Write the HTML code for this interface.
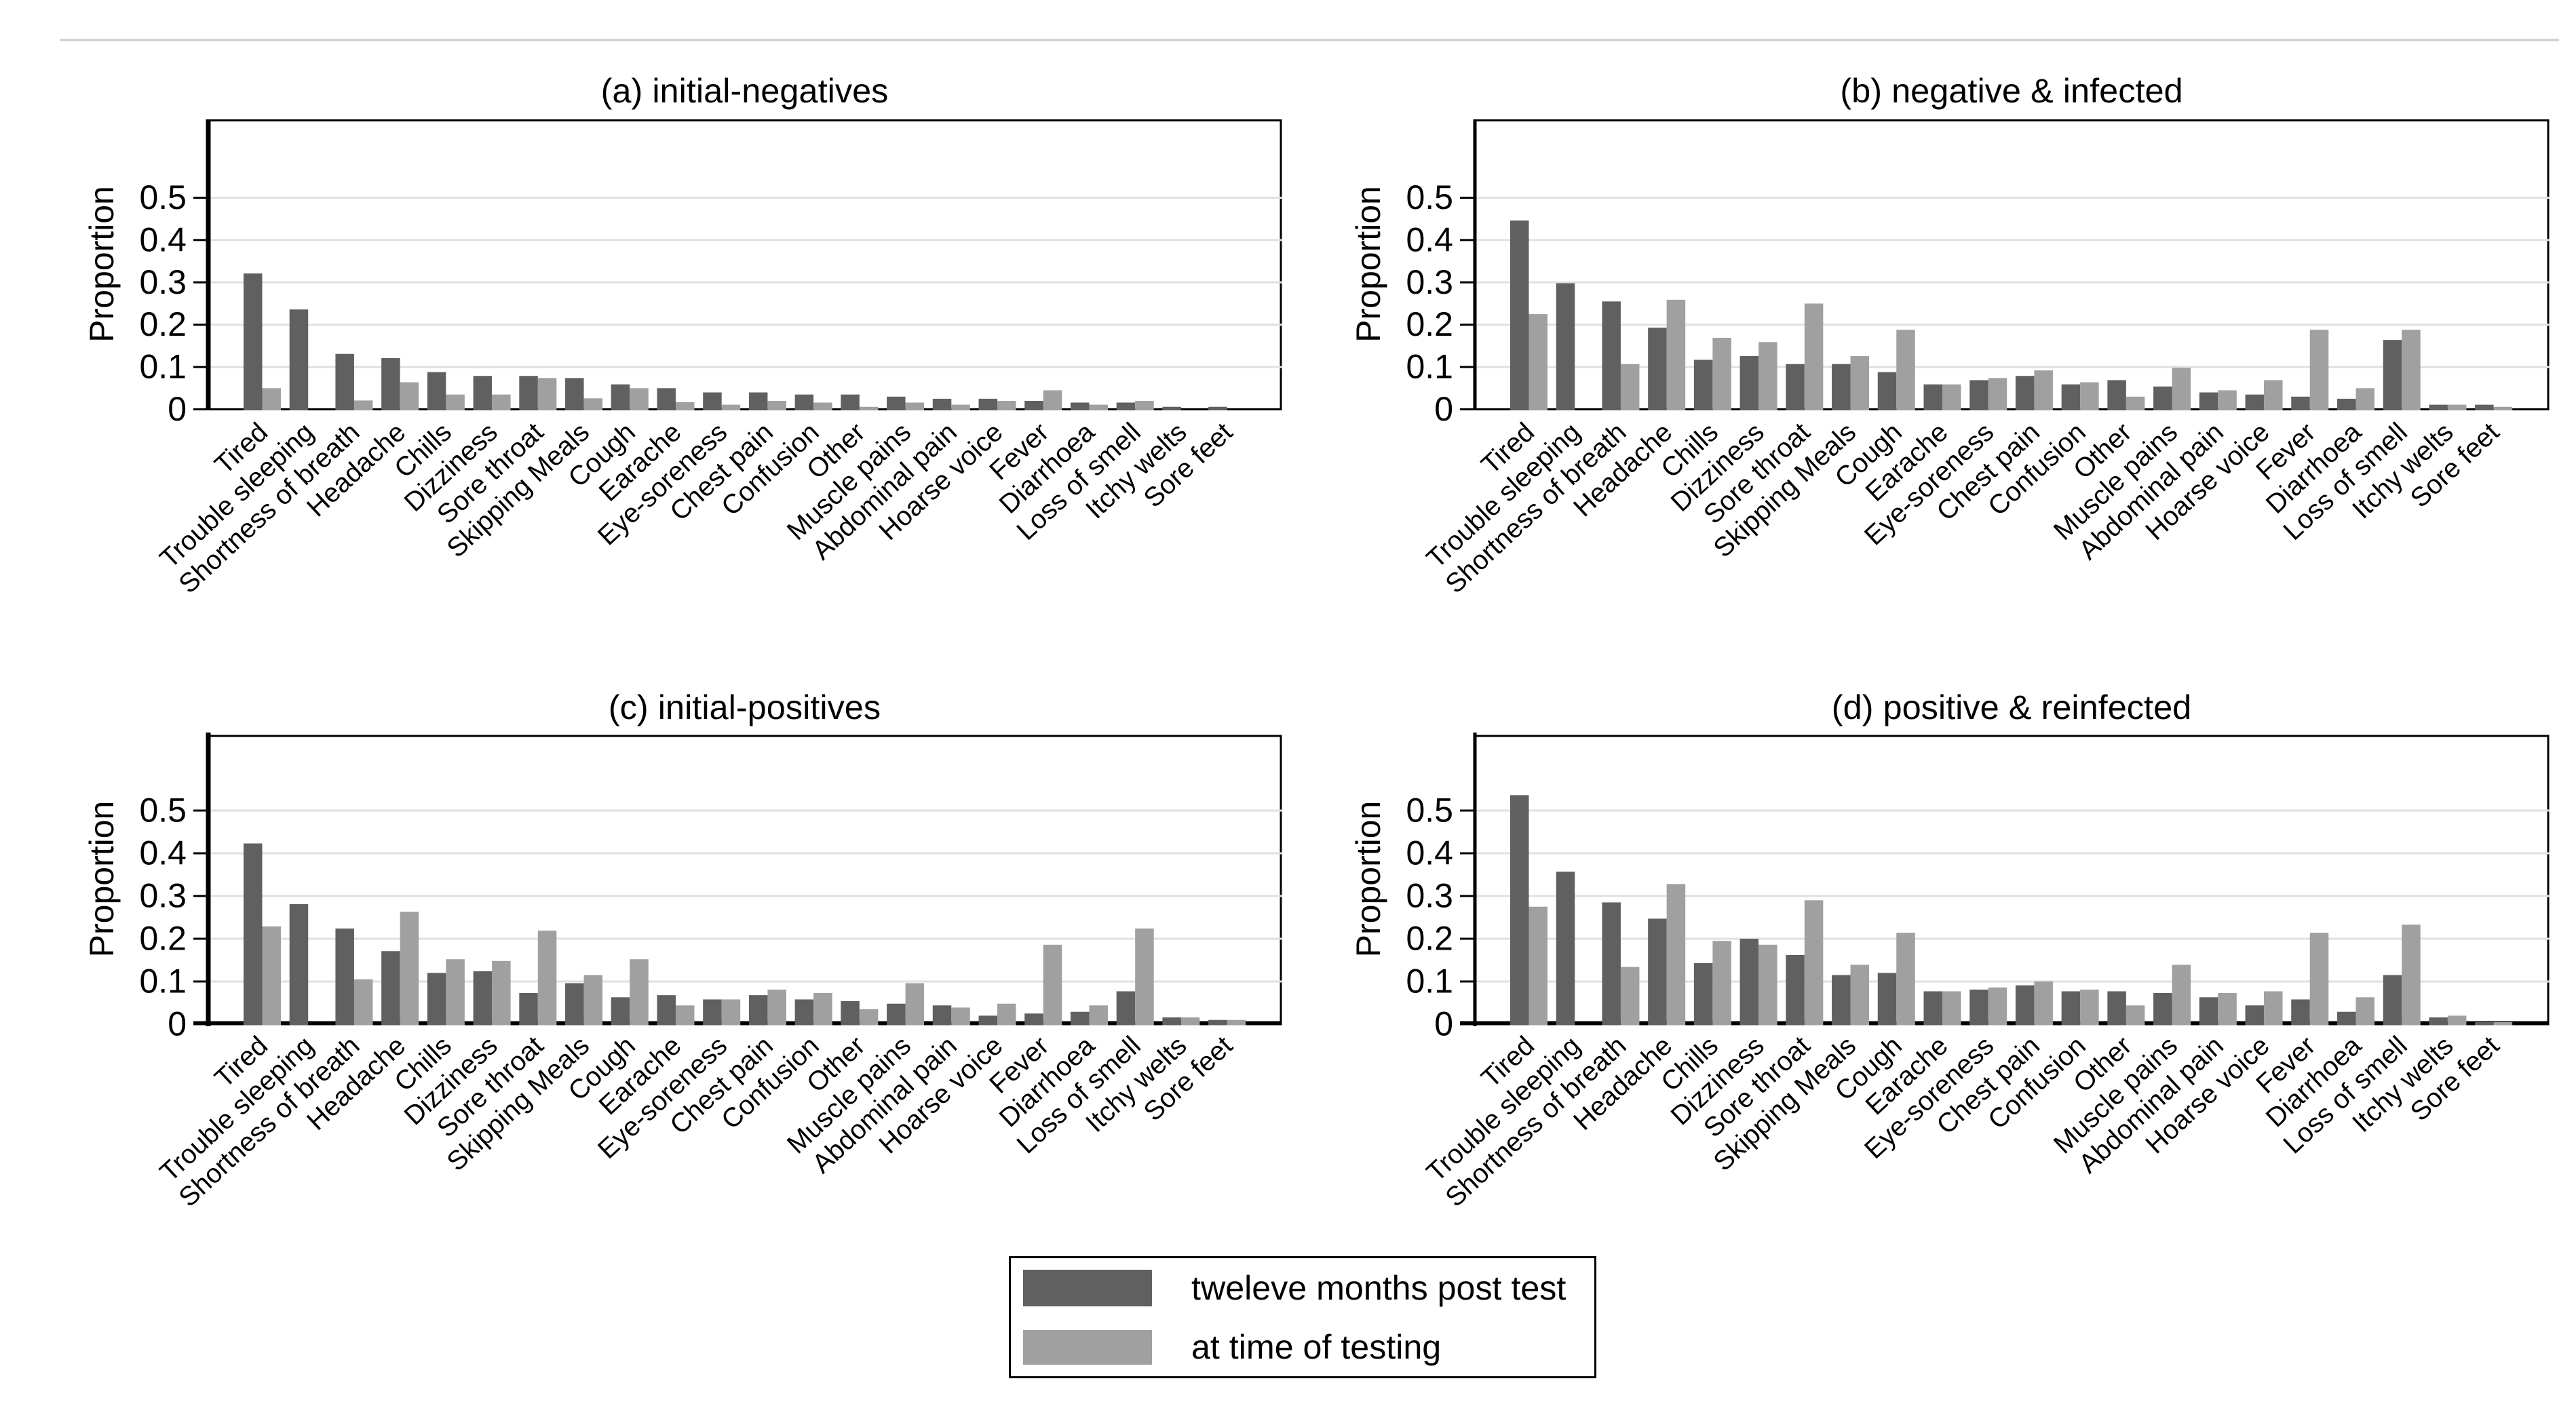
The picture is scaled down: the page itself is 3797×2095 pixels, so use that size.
<!DOCTYPE html>
<html lang="en">
<head>
<meta charset="utf-8">
<title>Symptom proportions by test group</title>
<style>
html,body{margin:0;padding:0;background:#fff;}
#figure{display:block;width:3797px;height:2095px;}
text{font-family:"Liberation Sans",sans-serif;fill:#000;}
</style>
</head>
<body>
<svg id="figure" xmlns="http://www.w3.org/2000/svg" width="3797" height="2095" viewBox="0 0 3797 2095">
  <rect x="88" y="57.5" width="3684" height="3" fill="#cccccc"></rect>
  <g id="panels"></g>
  <g>
    <rect x="1488.5" y="1853.5" width="863" height="177" fill="#fff" stroke="#000" stroke-width="3"></rect>
    <rect x="1508" y="1872" width="190" height="54" fill="#606060"></rect>
    <text x="1756" y="1916" font-size="50.2">tweleve months post test</text>
    <rect x="1508" y="1961" width="190" height="51" fill="#a0a0a0"></rect>
    <text x="1756" y="2003" font-size="50.2">at time of testing</text>
  </g>
</svg>
<script>
const categories = ["Tired","Trouble sleeping","Shortness of breath","Headache","Chills","Dizziness","Sore throat","Skipping Meals","Cough","Earache","Eye-soreness","Chest pain","Confusion","Other","Muscle pains","Abdominal pain","Hoarse voice","Fever","Diarrhoea","Loss of smell","Itchy welts","Sore feet"];
const tickValues = [0, 0.1, 0.2, 0.3, 0.4, 0.5];
const tickLabels = ["0", "0.1", "0.2", "0.3", "0.4", "0.5"];

const panelATwelveMonths = [0.321,0.236,0.131,0.121,0.088,0.079,0.079,0.074,0.059,0.05,0.04,0.04,0.035,0.035,0.03,0.025,0.025,0.02,0.016,0.016,0.006,0.006];
const panelAAtTesting = [0.05,0,0.021,0.064,0.035,0.035,0.074,0.026,0.05,0.017,0.011,0.02,0.016,0.006,0.016,0.011,0.02,0.045,0.011,0.02,0,0];

const panelBTwelveMonths = [0.446,0.298,0.255,0.193,0.117,0.126,0.107,0.107,0.088,0.059,0.069,0.079,0.059,0.069,0.054,0.04,0.035,0.03,0.025,0.164,0.011,0.011];
const panelBAtTesting = [0.225,0,0.107,0.259,0.169,0.159,0.25,0.126,0.188,0.059,0.074,0.092,0.064,0.03,0.098,0.045,0.069,0.188,0.05,0.188,0.011,0.006];

const panelCTwelveMonths = [0.423,0.281,0.224,0.171,0.12,0.124,0.073,0.096,0.063,0.068,0.058,0.068,0.058,0.054,0.048,0.044,0.02,0.025,0.029,0.077,0.016,0.01];
const panelCAtTesting = [0.229,0,0.105,0.263,0.152,0.148,0.219,0.115,0.152,0.044,0.058,0.081,0.073,0.035,0.096,0.039,0.048,0.186,0.044,0.224,0.016,0.01];

const panelDTwelveMonths = [0.536,0.357,0.285,0.247,0.143,0.2,0.162,0.115,0.12,0.077,0.081,0.091,0.077,0.077,0.073,0.063,0.044,0.058,0.029,0.115,0.016,0.005];
const panelDAtTesting = [0.275,0,0.134,0.328,0.195,0.186,0.29,0.139,0.214,0.077,0.086,0.1,0.081,0.044,0.139,0.073,0.077,0.214,0.063,0.233,0.02,0.005];

const panelTitles = ["(a) initial-negatives","(b) negative & infected","(c) initial-positives","(d) positive & reinfected"];
const panelKeys = ["a","b","c","d"];
const panelSeries = [
  [panelATwelveMonths, panelAAtTesting],
  [panelBTwelveMonths, panelBAtTesting],
  [panelCTwelveMonths, panelCAtTesting],
  [panelDTwelveMonths, panelDAtTesting]
];

const SVG_NS = "http://www.w3.org/2000/svg";
const root = document.getElementById("panels");
function make(parent, tag, attrs) {
  const el = document.createElementNS(SVG_NS, tag);
  for (const k in attrs) el.setAttribute(k, attrs[k]);
  parent.appendChild(el);
  return el;
}

panelTitles.forEach(function (title, p) {
  const isRight = p % 2 === 1;
  const isLower = p >= 2;
  const left = isRight ? 2174 : 307;
  const right = isRight ? 3756 : 1888;
  const top = isLower ? 1085 : 177.5;
  const zero = isLower ? 1510 : 603.5;
  const unit = isLower ? 630 : 624;
  const spineW = isRight ? 5 : 7;
  const baseW = isLower ? 6 : 3;
  const labelOffset = isLower ? 35 : 37;
  const titleBaseline = isLower ? 1060 : 151;

  const yScale = function (v) { return zero - v * unit; };
  const xBoundary = function (i) { return left + 79.5 + i * 67.72; };

  const g = make(root, "g", {});
  
  

  const titleEl = make(g, "text", {x: (left + right) / 2, y: titleBaseline, "font-size": 50.5, "text-anchor": "middle"});
  titleEl.textContent = title;
  
  

  const frameTop = make(g, "line", {x1: left, x2: right + 1.5, y1: top, y2: top, stroke: "#000", "stroke-width": 3});
  
  

  const frameRight = make(g, "line", {x1: right, x2: right, y1: top, y2: zero, stroke: "#000", "stroke-width": 3});
  
  

  tickValues.forEach(function (v, t) {
    if (v > 0) {
      const grid = make(g, "line", {x1: left, x2: right + 2, y1: yScale(v), y2: yScale(v), stroke: "#e0e0e0", "stroke-width": 3});
      
      
    }
    const tick = make(g, "line", {x1: left - 22, x2: left, y1: yScale(v), y2: yScale(v), stroke: "#000", "stroke-width": 3});
    
    

    const lab = make(g, "text", {x: left - 32, y: yScale(v) + 16.5, "font-size": 50, "text-anchor": "end"});
    lab.textContent = tickLabels[t];
    
    
  });

  const spine = make(g, "line", {x1: left, x2: left, y1: top - (isLower ? 5 : 1.5), y2: zero + baseW / 2, stroke: "#000", "stroke-width": spineW});
  
  

  const base = make(g, "line", {x1: left - 22, x2: right + 1.5, y1: zero - (baseW - 3) / 2, y2: zero - (baseW - 3) / 2, stroke: "#000", "stroke-width": baseW});
  
  

  const yTitle = make(g, "text", {"font-size": 50, "text-anchor": "middle", transform: "translate(" + (left - 140) + " " + (isLower ? 1296 : 389.5) + ") rotate(-90)"});
  yTitle.textContent = "Proportion";
  
  

  const dark = panelSeries[p][0];
  const light = panelSeries[p][1];
  const barW = 27.5;
  const bottom = zero + 1.5;
  categories.forEach(function (cat, i) {
    const b = xBoundary(i);
    const yD = yScale(dark[i]);
    const barD = make(g, "rect", {x: b - barW, y: yD, width: barW, height: Math.max(0, bottom - yD), fill: "#606060"});
    
    

    if (light[i] > 0) {
      const yL = yScale(light[i]);
      const barL = make(g, "rect", {x: b, y: yL, width: barW, height: Math.max(0, bottom - yL), fill: "#a0a0a0"});
      
      
    }

    const lx = b + 10.5;
    const ly = zero + labelOffset;
    const xl = make(g, "text", {"font-size": 39.7, "text-anchor": "end", transform: "translate(" + lx + " " + ly + ") rotate(-43)"});
    xl.textContent = cat;
    
    
  });
});
</script>
</body>
</html>
